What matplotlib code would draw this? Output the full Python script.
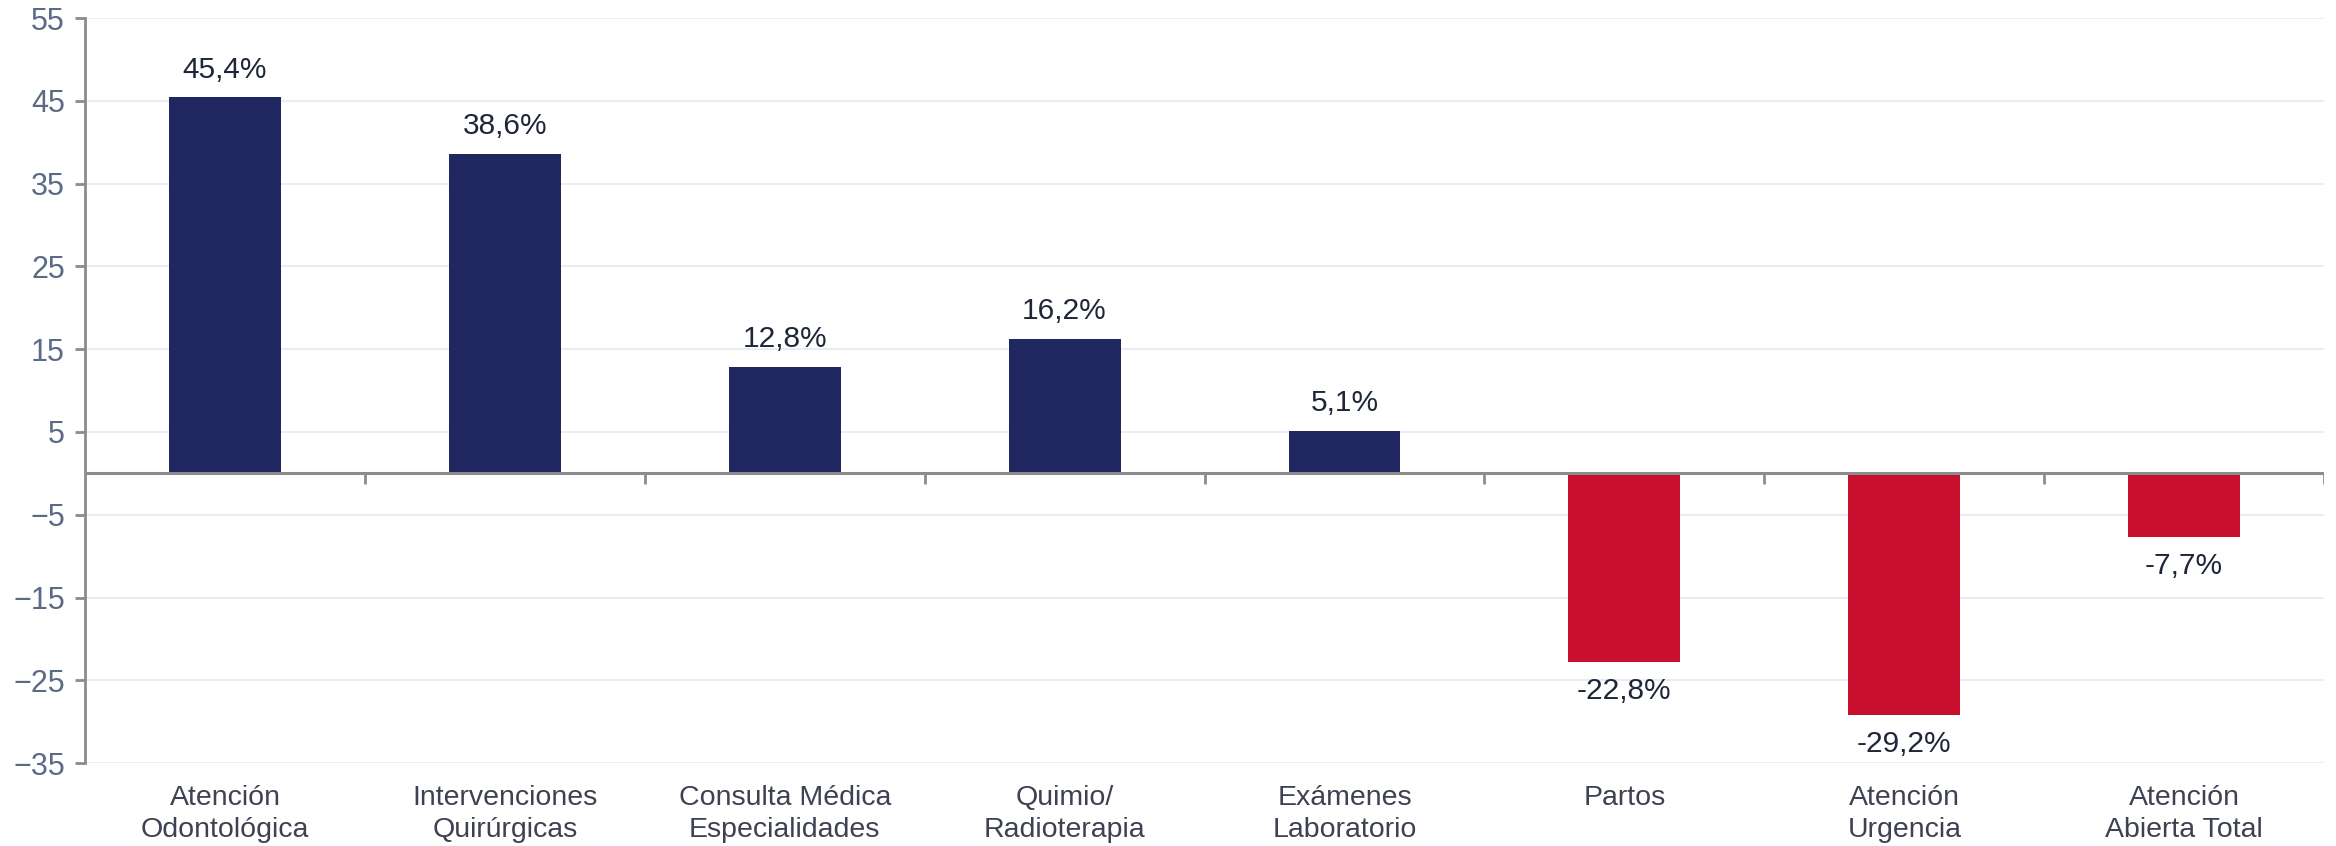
import numpy as np
import matplotlib.pyplot as plt

plt.rcParams['font.family'] = ['Liberation Sans', 'DejaVu Sans']

# datos
categorias = ['Atención\nOdontológica', 'Intervenciones\nQuirúrgicas', 'Consulta Médica\nEspecialidades',
              'Quimio/\nRadioterapia', 'Exámenes\nLaboratorio', 'Partos', 'Atención\nUrgencia',
              'Atención\nAbierta Total']
valores = [45.4, 38.6, 12.8, 16.2, 5.1, -22.8, -29.2, -7.7]
etiquetas = ['45,4%', '38,6%', '12,8%', '16,2%', '5,1%', '-22,8%', '-29,2%', '-7,7%']
y_ticks = [-35, -25, -15, -5, 5, 15, 25, 35, 45, 55]

AZUL = '#1f2660'
ROJO = '#c8102e'
GRIS = '#8c8c8c'

fig = plt.figure(figsize=(23.36, 8.46), dpi=100)
ax = fig.add_axes([0.0364, 0.098, 0.9585, 0.8807])

x = np.arange(len(categorias))
colores = [AZUL if v >= 0 else ROJO for v in valores]
ax.bar(x, valores, width=0.4, color=colores, zorder=3)

for xi, v, txt in zip(x, valores, etiquetas):
    if v >= 0:
        ax.annotate(txt, (xi, v), xytext=(0, 10), textcoords='offset points',
                    ha='center', va='bottom', fontsize=21.5, color='#1e2638')
    else:
        ax.annotate(txt, (xi, v), xytext=(0, -11), textcoords='offset points',
                    ha='center', va='top', fontsize=21.5, color='#1e2638')

ax.set_xlim(-0.5, len(categorias) - 0.5)
ax.set_ylim(-35, 55)
ax.set_yticks(y_ticks)
ax.yaxis.grid(True, color='#e6eaf2', linewidth=1.3, zorder=0)
ax.tick_params(axis='y', labelsize=22, labelcolor='#5b6b86', color=GRIS, length=7.5, width=2, pad=7)

ax.set_xticks(x)
ax.set_xticklabels(categorias, fontsize=20.5, color='#3d4152', linespacing=1.3)
ax.tick_params(axis='x', length=0, pad=16)

# linea de cero con marcas entre categorias
ax.axhline(0, color=GRIS, linewidth=2.2, zorder=4)
limites = np.arange(0.5, len(categorias), 1.0)
ax.vlines(limites, -1.3, 0, color=GRIS, linewidth=2, zorder=4)

for s in ['top', 'right', 'bottom']:
    ax.spines[s].set_visible(False)
ax.spines['left'].set_color(GRIS)
ax.spines['left'].set_linewidth(2)

fig.savefig('out.png', dpi=100)
